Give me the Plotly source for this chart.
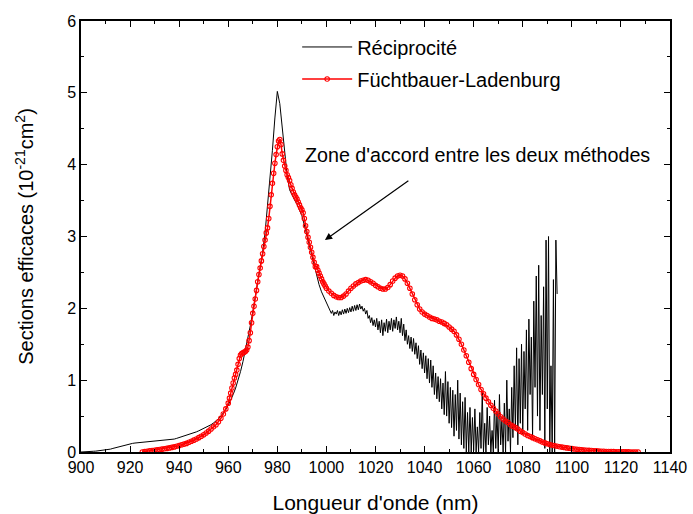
import numpy as np
import plotly.graph_objects as go

# ---------------- data ----------------
# Réciprocité, smooth part: 900..999 nm, 1 nm step
recip_smooth_start = 900
recip_smooth = [
    0, 0, 0, 0, 0.005, 0.01, 0.012, 0.015, 0.02, 0.025,
    0.03, 0.035, 0.04, 0.05, 0.06, 0.07, 0.08, 0.09, 0.10, 0.11,
    0.115, 0.12, 0.125, 0.128, 0.13, 0.133, 0.136, 0.139, 0.142, 0.145,
    0.148, 0.151, 0.154, 0.157, 0.16, 0.163, 0.167, 0.172, 0.18, 0.19,
    0.20, 0.21, 0.22, 0.23, 0.24, 0.25, 0.265, 0.28, 0.295, 0.31,
    0.325, 0.34, 0.36, 0.38, 0.405, 0.43, 0.46, 0.50, 0.54, 0.59,
    0.65, 0.72, 0.80, 0.89, 1.0, 1.12, 1.26, 1.42, 1.58, 1.76,
    1.95, 2.15, 2.36, 2.57, 2.78, 3.05, 3.40, 3.80, 4.20, 4.65,
    5.02, 4.85, 4.50, 4.15, 3.85, 3.65, 3.57, 3.51, 3.45, 3.38,
    3.29, 3.16, 3.02, 2.89, 2.74, 2.59, 2.45, 2.33, 2.23, 2.15,
]
# Réciprocité, noisy part: 1000..1094 nm, 0.5 nm step
recip_noisy_start = 1000
recip_noisy = [
    2.07, 2.03, 1.99, 1.97, 1.93, 1.97, 1.90, 1.95, 1.92, 1.97,
    1.90, 1.96, 1.91, 1.98, 1.92, 1.99, 1.93, 2.00, 1.94, 2.01,
    1.95, 2.03, 1.96, 2.04, 1.97, 2.05, 1.98, 2.06, 1.99, 2.03,
    1.96, 2.00, 1.92, 1.97, 1.86, 1.90, 1.80, 1.87, 1.76, 1.84,
    1.74, 1.86, 1.70, 1.82, 1.66, 1.84, 1.62, 1.80, 1.68, 1.85,
    1.66, 1.82, 1.70, 1.86, 1.68, 1.84, 1.72, 1.88, 1.70, 1.82,
    1.66, 1.86, 1.62, 1.78, 1.55, 1.70, 1.50, 1.62, 1.44, 1.60,
    1.40, 1.58, 1.36, 1.52, 1.30, 1.48, 1.22, 1.42, 1.16, 1.38,
    1.10, 1.34, 1.02, 1.30, 0.96, 1.28, 0.90, 1.20, 0.80, 1.10,
    0.74, 1.05, 0.70, 1.02, 0.60, 0.96, 0.52, 1.12, 0.50, 0.98,
    0.40, 0.90, 0.34, 0.86, 0.22, 0.80, 0.30, 1.00, 0.18, 0.82,
    0.10, 0.70, 0.05, 0.76, 0.0, 0.55, 0.0, 0.62, 0.0, 0.48,
    0.02, 0.60, 0.0, 0.35, 0.0, 0.55, 0.05, 0.85, 0.0, 0.40,
    0.0, 0.62, 0.10, 0.50, 0.0, 0.30, 0.0, 0.72, 0.05, 0.55,
    0.0, 0.80, 0.10, 0.45, 0.0, 0.68, 0.0, 1.00, 0.15, 0.60,
    0.0, 0.90, 0.20, 1.20, 0.30, 1.45, 0.10, 1.30, 0.40, 1.50,
    0.25, 1.40, 0.60, 1.70, 0.30, 1.85, 0.80, 1.60, 0.20, 2.10,
    0.90, 2.45, 0.50, 2.60, 0.30, 1.90, 0.80, 2.30, 0.05, 2.95,
    0.60, 3.00, 0.0, 1.20, 0.0, 2.40, 0.0, 2.95, 2.20,
]

# Füchtbauer-Ladenburg: 925..959 nm (1 nm step)
fl_low_start = 925
fl_low = [
    0.0, 0.005, 0.01, 0.015, 0.02, 0.025, 0.03, 0.035, 0.04, 0.045,
    0.05, 0.057, 0.064, 0.071, 0.08, 0.09, 0.10, 0.11, 0.12, 0.135,
    0.15, 0.165, 0.18, 0.20, 0.22, 0.24, 0.265, 0.29, 0.32, 0.35,
    0.38, 0.42, 0.47, 0.53, 0.60,
]
# 960..999.5 nm (0.5 nm step)
fl_peak_start = 960
fl_peak = [
    0.68, 0.75, 0.82, 0.89, 0.96, 1.03, 1.08, 1.14, 1.22, 1.30,
    1.35, 1.37, 1.38, 1.39, 1.40, 1.42, 1.46, 1.55, 1.66, 1.80,
    1.93, 2.03, 2.13, 2.25, 2.37, 2.47, 2.56, 2.66, 2.76, 2.86,
    2.95, 3.05, 3.12, 3.25, 3.42, 3.58, 3.74, 3.88, 4.02, 4.14,
    4.25, 4.33, 4.35, 4.28, 4.15, 4.06, 3.98, 3.92, 3.86, 3.82,
    3.78, 3.72, 3.67, 3.62, 3.58, 3.55, 3.52, 3.48, 3.44, 3.40,
    3.37, 3.33, 3.25, 3.15, 3.07, 2.99, 2.92, 2.85, 2.78, 2.71,
    2.64, 2.58, 2.58, 2.53, 2.49, 2.45, 2.41, 2.37, 2.34, 2.31,
]
# 1000..1127 nm (1 nm step)
fl_tail_start = 1000
fl_tail = [
    2.28, 2.24, 2.21, 2.18, 2.16, 2.15, 2.15, 2.17, 2.20, 2.24,
    2.28, 2.31, 2.34, 2.36, 2.38, 2.39, 2.40, 2.39, 2.37, 2.35,
    2.32, 2.30, 2.28, 2.27, 2.27, 2.29, 2.33, 2.38, 2.42, 2.45,
    2.46, 2.45, 2.41, 2.35, 2.28, 2.20, 2.12, 2.05, 1.99, 1.95,
    1.92, 1.90, 1.88, 1.86, 1.85, 1.84, 1.82, 1.81, 1.79, 1.77,
    1.74, 1.71, 1.68, 1.63, 1.57, 1.50, 1.42, 1.34, 1.25, 1.16,
    1.08, 1.01, 0.94, 0.87, 0.81, 0.75, 0.70, 0.65, 0.61, 0.57,
    0.53, 0.49, 0.46, 0.43, 0.41, 0.38, 0.36, 0.34, 0.32, 0.29,
    0.27, 0.25, 0.23, 0.215, 0.20, 0.185, 0.17, 0.155, 0.14, 0.127,
    0.115, 0.105, 0.095, 0.087, 0.08, 0.074, 0.068, 0.062, 0.057, 0.052,
    0.047, 0.042, 0.038, 0.034, 0.031, 0.028, 0.025, 0.022, 0.02, 0.017,
    0.015, 0.013, 0.011, 0.0095, 0.008, 0.007, 0.006, 0.005, 0.004, 0.0035,
    0.003, 0.0025, 0.002, 0.0015, 0.001, 0.0005, 0.0, 0.0,
]

x_range = [900, 1140]
y_range = [0, 6]

# ---------------- build series ----------------
recip_x = list(recip_smooth_start + np.arange(len(recip_smooth)) * 1.0) + \
    list(recip_noisy_start + np.arange(len(recip_noisy)) * 0.5)
recip_y = recip_smooth + recip_noisy

fl_x = list(fl_low_start + np.arange(len(fl_low)) * 1.0) + \
    list(fl_peak_start + np.arange(len(fl_peak)) * 0.5) + \
    list(fl_tail_start + np.arange(len(fl_tail)) * 1.0)
fl_y = fl_low + fl_peak + fl_tail

FONT = "Liberation Sans, Arial, sans-serif"

fig = go.Figure()
fig.add_trace(go.Scatter(
    x=recip_x, y=recip_y, mode="lines", name="Réciprocité",
    line=dict(color="black", width=1), legendgroup="a",
))
fig.add_trace(go.Scatter(
    x=fl_x, y=fl_y, mode="lines+markers", name="Füchtbauer-Ladenburg",
    line=dict(color="#ff0000", width=1.5),
    marker=dict(symbol="circle-open", size=4.5, color="#ff0000", line=dict(width=1.1)),
    legendgroup="b",
))

fig.add_annotation(
    x=999.4, y=2.95, ax=1034, ay=3.79, xref="x", yref="y", axref="x", ayref="y",
    text="", showarrow=True, arrowhead=2, arrowsize=1.2, arrowwidth=1.2,
    arrowcolor="black",
)
fig.add_annotation(
    x=1061.5, y=4.13, xref="x", yref="y", text="Zone d'accord entre les deux méthodes",
    showarrow=False, font=dict(family=FONT, size=19.7, color="black"),
)

axis_common = dict(
    showline=True, linecolor="black", linewidth=1.5, mirror="allticks",
    ticks="inside", tickcolor="black", tickwidth=1.2, ticklen=6,
    showgrid=False, zeroline=False, automargin=False,
    tickfont=dict(family=FONT, size=16, color="black"),
)

fig.update_xaxes(
    range=x_range, dtick=20, tick0=900,
    minor=dict(dtick=10, ticks="inside", ticklen=3, tickcolor="black", tickwidth=1.2, showgrid=False),
    title=dict(text="Longueur d'onde (nm)", font=dict(family=FONT, size=21, color="black"), standoff=23),
    **axis_common,
)
fig.update_yaxes(
    range=y_range, dtick=1, tick0=0,
    minor=dict(dtick=0.5, ticks="inside", ticklen=3, tickcolor="black", tickwidth=1.2, showgrid=False),
    title=dict(text="Sections efficaces (10<sup>-21</sup>cm<sup>2</sup>)",
               font=dict(family=FONT, size=20, color="black"), standoff=28),
    **axis_common,
)

fig.update_layout(
    width=693, height=514,
    margin=dict(l=81, r=23, t=21, b=62, autoexpand=False),
    paper_bgcolor="white", plot_bgcolor="white",
    showlegend=True,
    legend=dict(
        x=0.367, y=0.985, xanchor="left", yanchor="top",
        font=dict(family=FONT, size=20, color="black"),
        bgcolor="rgba(0,0,0,0)", traceorder="grouped", tracegroupgap=3,
        itemwidth=50,
    ),
    font=dict(family=FONT, color="black"),
)

fig.write_html("out.html", config={"displayModeBar": False},
               post_script="document.body.style.margin='0';")
